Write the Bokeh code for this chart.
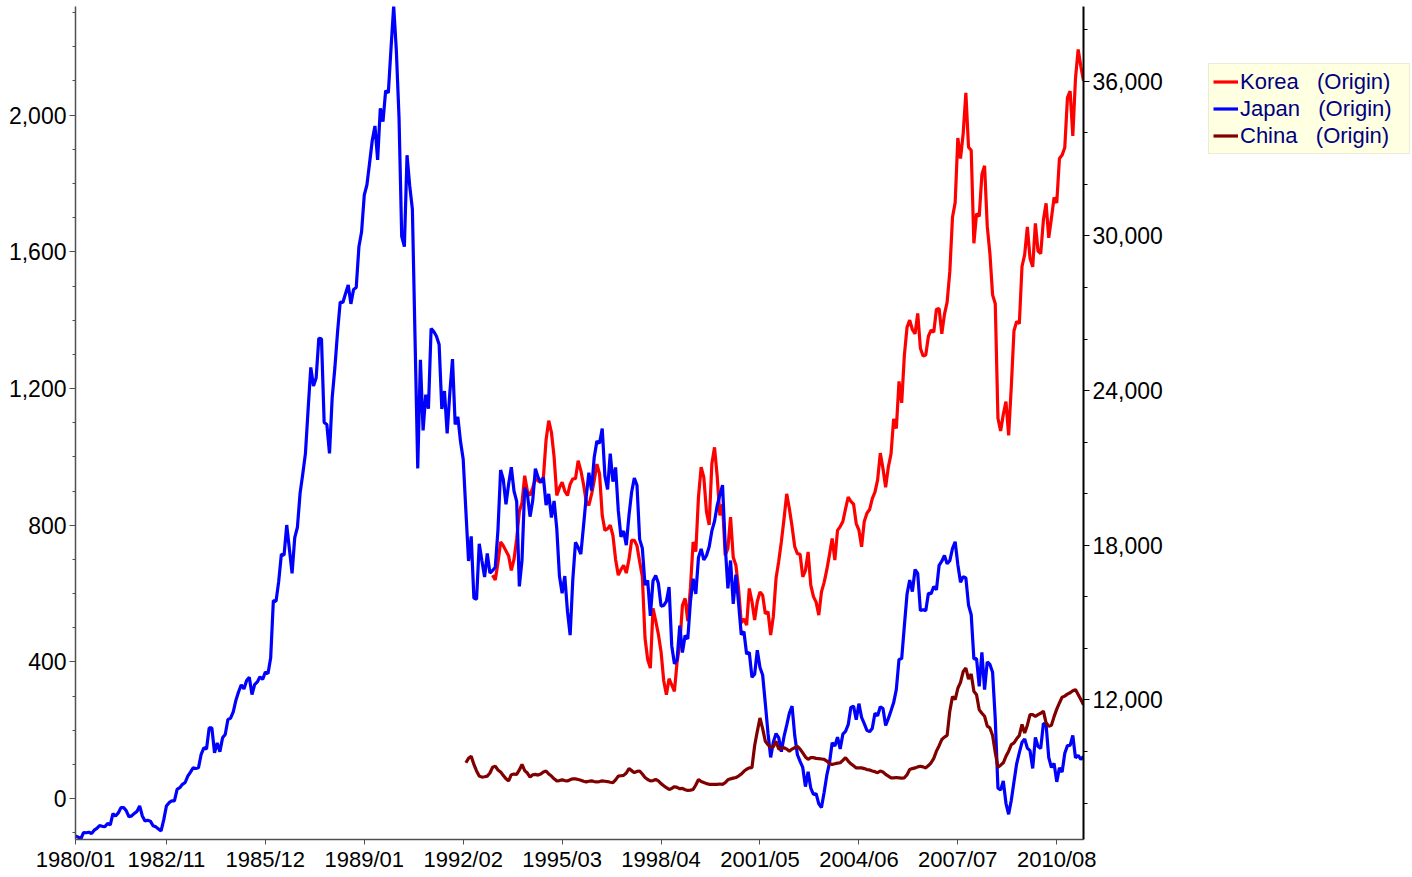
from bokeh.plotting import figure
from bokeh.layouts import row
from bokeh.models import Range1d, LinearAxis, FixedTicker, Legend, LegendItem, NumeralTickFormatter
from bokeh.embed import file_html
from bokeh.resources import INLINE

# ---------------- data (monthly closes) ----------------
x_tick_labels = ["1980/01", "1982/11", "1985/12", "1989/01", "1992/02", "1995/03",
                 "1998/04", "2001/05", "2004/06", "2007/07", "2010/08"]

japan_start = "1980/01"
japan = [
    6730, 6680, 6610, 6860, 6850, 6870, 6820, 6950, 7020, 7130, 7100, 7090,
    7210, 7160, 7590, 7500, 7620, 7825, 7830, 7700, 7470, 7505, 7600, 7680,
    7890, 7500, 7310, 7335, 7300, 7120, 7080, 7000, 6925, 7350, 7890, 8017,
    8085, 8085, 8533, 8600, 8730, 8800, 9050, 9200, 9372, 9345, 9372, 9894,
    10145, 10100, 10918, 10918, 9950, 10338, 9990, 10531, 10660, 11240, 11300, 11543,
    11992, 12321, 12590, 12426, 12758, 12881, 12209, 12600, 12700, 12898, 12796, 13083,
    13024, 13640, 15860, 15826, 16600, 17654, 17617, 18787, 17852, 16911, 18300, 18701,
    20024, 20767, 21567, 23275, 24902, 24176, 24488, 26029, 26011, 22765, 22686, 21564,
    23719, 24877, 26260, 27434, 27417, 27769, 28101, 27366, 27924, 27999, 29579, 30159,
    31581, 31985, 32839, 33713, 34267, 32949, 34954, 34431, 35637, 35549, 37269, 38916,
    37189, 34592, 29980, 29584, 33131, 31940, 31036, 25978, 20984, 25194, 22455, 23849,
    23294, 26409, 26292, 26111, 25790, 23291, 23984, 22336, 23916, 25222, 22687, 22984,
    22023, 21339, 19346, 17391, 18348, 15952, 15910, 18061, 17399, 16767, 17684, 16925,
    17024, 17146, 18591, 20919, 20552, 19590, 20380, 21027, 20106, 19703, 16408, 17417,
    20229, 19997, 19112, 19725, 20973, 20644, 20448, 20629, 19563, 19990, 19076, 19723,
    18650, 16809, 16140, 16807, 15437, 14517, 16678, 18117, 17913, 17655, 18744, 19868,
    20813, 20125, 21407, 22041, 21956, 22531, 20693, 20167, 21556, 20467, 21020, 19361,
    18330, 18557, 18003, 19151, 20069, 20605, 20331, 18229, 17888, 16459, 16636, 15259,
    16628, 16832, 16527, 15641, 15671, 15830, 16379, 14108, 13406, 13564, 14883, 13842,
    14499, 14368, 15837, 16701, 16112, 17530, 17862, 17437, 17605, 17942, 18558, 18934,
    19540, 19959, 20337, 17974, 16332, 17411, 15727, 16861, 15747, 14539, 14649, 13785,
    13843, 12883, 12999, 13934, 13262, 12969, 11860, 10713, 9774, 10366, 10697, 10542,
    9997, 10587, 11024, 11492, 11763, 10621, 9877, 9619, 9383, 8640, 9216, 8579,
    8340, 8363, 7973, 7831, 8425, 9083, 9563, 10344, 10219, 10560, 10101, 10677,
    10784, 11042, 11715, 11762, 11236, 11858, 11326, 11082, 10824, 10771, 10899, 11489,
    11388, 11740, 11668, 11009, 11277, 11584, 11900, 12413, 13574, 13606, 14872, 16111,
    16650, 16205, 17059, 16906, 15467, 15505, 15457, 16141, 16128, 16399, 16274, 17226,
    17383, 17604, 17288, 17400, 17876, 18138, 17249, 16569, 16786, 16737, 15681, 15308,
    13592, 13603, 12526, 13850, 12400, 13481, 13377, 13073, 11260, 8577, 8512, 8860,
    7994, 7568, 8110, 8828, 9523, 9958, 10357, 10493, 10133, 10035, 9346, 10546,
    10198, 10126, 11090, 11057, 9769, 9383, 9537, 8824, 9369, 9202, 9937, 10229,
    10238, 10624, 9755, 9850, 9694, 9816,
]

korea_start = "1993/01"
korea = [
    654, 640, 690, 751, 740, 725, 710, 668, 700, 760, 840, 866,
    945, 900, 887, 910, 936, 930, 925, 940, 1050, 1106, 1072, 1000,
    887, 910, 926, 900, 887, 920, 936, 936, 989, 960, 920, 870,
    858, 890, 930, 979, 950, 829, 785, 790, 800, 770, 700, 654,
    670, 683, 660, 700, 756, 756, 740, 693, 650, 470, 407, 382,
    557, 520, 481, 430, 345, 304, 351, 333, 314, 400, 450, 566,
    586, 520, 618, 751, 723, 883, 970, 940, 839, 801, 980, 1028,
    943, 829, 861, 712, 732, 824, 706, 683, 613, 514, 526, 508,
    615, 577, 523, 577, 605, 595, 541, 547, 479, 534, 644, 694,
    752, 819, 892, 848, 796, 737, 717, 715, 649, 667, 722, 625,
    591, 575, 537, 605, 633, 670, 714, 761, 698, 785, 796, 811,
    848, 882, 870, 862, 805, 786, 737, 811, 835, 846, 878, 897,
    933, 1011, 966, 911, 970, 1008, 1111, 1083, 1221, 1158, 1297, 1379,
    1400, 1372, 1360, 1420, 1318, 1295, 1298, 1353, 1371, 1365, 1432, 1434,
    1360, 1417, 1453, 1542, 1701, 1744, 1933, 1873, 1946, 2065, 1906, 1897,
    1625, 1712, 1704, 1826, 1852, 1675, 1595, 1474, 1448, 1113, 1076, 1124,
    1162, 1063, 1206, 1369, 1396, 1390, 1557, 1592, 1673, 1581, 1556, 1683,
    1602, 1595, 1693, 1742, 1641, 1698, 1759, 1743, 1873, 1883, 1905, 2051,
    2070, 1939, 2107, 2192, 2143, 2101,
]

china_start = "1992/03"
china = [
    105, 118, 124, 100, 81, 66, 63, 64, 66, 75,
    92, 95, 84, 78, 68, 58, 52, 70, 72, 71, 84, 100,
    82, 75, 63, 70, 71, 69, 72, 78, 81, 72, 66, 58,
    52, 53, 55, 53, 52, 55, 58, 58, 56, 54, 51, 49,
    51, 52, 50, 49, 50, 52, 51, 50, 48, 47, 55, 66,
    67, 68, 75, 88, 82, 76, 80, 81, 72, 62, 56, 52,
    53, 56, 52, 44, 38, 32, 27, 30, 35, 33, 29, 30,
    26, 24, 25, 27, 40, 56, 50, 47, 44, 42, 42, 42,
    42, 43, 42, 47, 55, 58, 60, 62, 66, 72, 80, 86,
    90, 91, 155, 197, 236, 205, 168, 158, 150, 152, 168, 145,
    147, 149, 145, 139, 145, 149, 153, 145, 134, 122, 115, 120,
    120, 118, 117, 116, 115, 110, 103, 100, 102, 104, 105, 112,
    120, 110, 102, 96, 90, 90, 90, 88, 85, 84, 81, 79,
    76, 81, 78, 71, 66, 61, 61, 62, 61, 60, 61, 70,
    85, 88, 90, 93, 95, 93, 90, 97, 105, 118, 139, 155,
    173, 180, 185, 256, 299, 290, 323, 340, 372, 382, 350, 365,
    314, 304, 260, 250, 241, 212, 207, 185, 135, 92, 98, 105,
    124, 139, 158, 163, 175, 185, 217, 192, 215, 246, 246, 241,
    246, 250, 256, 222, 212, 215, 240, 262, 280, 297, 300, 306,
    310, 316, 319, 305, 290, 275,
]

series_names = ["Korea", "Japan", "China"]
series_colors = ["#FF0000", "#0000FF", "#800000"]


def month_index(label):
    return (int(label[:4]) - 1980) * 12 + int(label[5:7]) - 1


def months_from(start, values):
    s = month_index(start)
    return list(range(s, s + len(values)))


xk, xj, xc = months_from(korea_start, korea), months_from(japan_start, japan), months_from(china_start, china)
x_ticks = [month_index(s) for s in x_tick_labels]
x_end = max(xj[-1], xk[-1], xc[-1])

# ---------------- main figure ----------------
H = 874
W_MAIN = 1173
LINE_W = 3.2
p = figure(width=W_MAIN, height=H, output_backend="svg", toolbar_location=None,
           x_range=Range1d(0, x_end), y_range=Range1d(-119.5, 2317.8),
           min_border_left=75, min_border_right=90, min_border_top=6, min_border_bottom=32,
           background_fill_color="white", border_fill_color="white")
p.outline_line_color = None
p.xgrid.visible = False
p.ygrid.visible = False
p.extra_y_ranges = {"right": Range1d(6589, 38899)}

TICK_FONT = "Liberation Sans"

# bottom axis
xa = p.xaxis[0]
xa.ticker = FixedTicker(ticks=x_ticks, minor_ticks=[])
xa.major_label_overrides = {t: s for t, s in zip(x_ticks, x_tick_labels)}
xa.major_label_text_font = TICK_FONT
xa.major_label_text_font_size = "22px"
xa.major_label_text_color = "#000000"
xa.major_label_standoff = 2
xa.major_tick_out = 5
xa.major_tick_in = 0
xa.axis_line_color = "#505050"
xa.axis_line_width = 1.5
xa.major_tick_line_color = "#505050"

# left axis
ya = p.yaxis[0]
ya.ticker = FixedTicker(ticks=[0, 400, 800, 1200, 1600, 2000],
                        minor_ticks=list(range(-100, 2301, 100)))
ya.formatter = NumeralTickFormatter(format="0,0")
ya.major_label_text_font = TICK_FONT
ya.major_label_text_font_size = "23px"
ya.major_label_text_color = "#000000"
ya.major_label_standoff = 3
ya.major_tick_out = 6
ya.major_tick_in = 0
ya.minor_tick_out = 3
ya.minor_tick_in = 0
ya.axis_line_color = "#505050"
ya.axis_line_width = 1.5
ya.major_tick_line_color = "#505050"
ya.minor_tick_line_color = "#505050"

# right axis
ra = LinearAxis(y_range_name="right",
                ticker=FixedTicker(ticks=[12000, 18000, 24000, 30000, 36000],
                                   minor_ticks=list(range(8000, 38001, 2000))),
                formatter=NumeralTickFormatter(format="0,0"))
ra.major_label_text_font = TICK_FONT
ra.major_label_text_font_size = "23px"
ra.major_label_text_color = "#000000"
ra.major_label_standoff = 3
ra.major_tick_out = 6
ra.major_tick_in = 0
ra.minor_tick_out = 4
ra.minor_tick_in = 0
ra.axis_line_color = "#000000"
ra.axis_line_width = 2
ra.major_tick_line_color = "#000000"
ra.minor_tick_line_color = "#000000"
p.add_layout(ra, "right")

# lines
rk = p.line(xk, korea, line_color=series_colors[0], line_width=LINE_W)
rj = p.line(xj, japan, line_color=series_colors[1], line_width=LINE_W, y_range_name="right")
rc = p.line(xc, china, line_color=series_colors[2], line_width=LINE_W)

# ---------------- legend panel (separate figure to the right) ----------------
W_LEG = 1410 - W_MAIN
pl = figure(width=W_LEG, height=H, output_backend="svg", toolbar_location=None,
            x_range=Range1d(0, 1), y_range=Range1d(0, 1),
            x_axis_location=None, y_axis_location=None,
            min_border_left=0, min_border_right=0, min_border_top=0, min_border_bottom=0,
            background_fill_color="white", border_fill_color="white")
pl.outline_line_color = None
pl.xgrid.visible = False
pl.ygrid.visible = False
# proxy renderers (kept outside the visible range) that give the legend its swatches
legend_renderers = [pl.line([-5, -4], [-5, -4], line_color=c, line_width=LINE_W) for c in series_colors]

NB = "\u00a0"
legend = Legend(
    items=[LegendItem(label=n + NB * 3 + "(Origin)", renderers=[r])
           for n, r in zip(series_names, legend_renderers)],
    location=(1208 - W_MAIN, 685),
    orientation="vertical",
    background_fill_color="#FFFFE1",
    background_fill_alpha=1.0,
    border_line_color="#D8D8D8",
    border_line_width=1,
    label_text_font=TICK_FONT,
    label_text_font_size="22px",
    label_text_color="#000080",
    glyph_width=25,
    glyph_height=27,
    label_height=27,
    label_width=165,
    label_standoff=2,
    spacing=0,
    padding=4,
    margin=0,
)
pl.add_layout(legend, "center")

layout = row(p, pl)
open("out.html", "w").write(file_html(layout, INLINE))
